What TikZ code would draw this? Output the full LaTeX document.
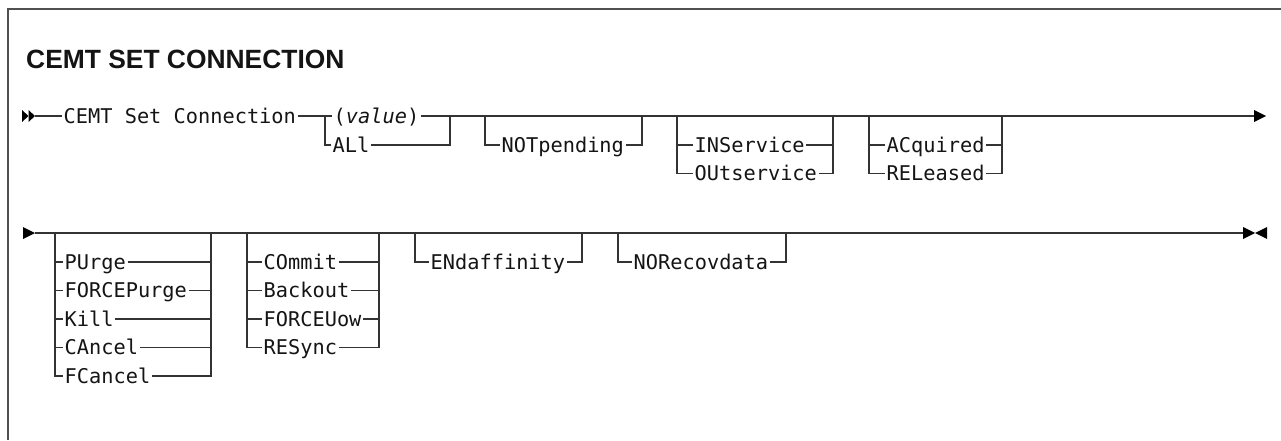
\documentclass[tikz,border=0pt]{standalone}
\usepackage{fontspec}
\newfontfamily\railfont{DejaVu Sans Mono}
\newfontfamily\titlefont{Liberation Sans}
\definecolor{railc}{HTML}{333333}
\definecolor{framec}{HTML}{505050}
\definecolor{textc}{HTML}{141414}
\begin{document}
\begin{tikzpicture}[x=1pt,y=-1pt,
  rail/.style={draw=railc, line width=1.3pt},
  framing/.style={draw=framec, line width=1.6pt},
  opt/.style={font=\railfont\fontsize{20.3}{24}\selectfont, text=textc, inner xsep=1.5pt, inner ysep=0pt, text height=14.8pt, text depth=0pt, anchor=west},
  tipfill/.style={fill=black}]
\useasboundingbox (0,0) rectangle (1281,440);
% frame
\draw[framing] (8,440) -- (8,9) -- (1281,9);
\node[anchor=base west, font=\titlefont\bfseries\fontsize{26.4}{30}\selectfont, inner sep=0pt, text=textc] (title) at (26,68) {CEMT SET CONNECTION};

% ---------- row 1 ----------
\fill[tipfill] (22,110) -- (28.5,116) -- (22,122) -- cycle;
\fill[tipfill] (28.5,110) -- (35,116) -- (28.5,122) -- cycle;
\coordinate (s1) at (35,116);
\node[opt] (cemt) at (62,116) {CEMT Set Connection};
\coordinate (b1L) at (325,116);
\coordinate (b1R) at (450,116);
\node[opt] (val) at (332,116) {(\textit{value})};
\node[opt] (all) at (331,145) {ALl};
\draw[rail] (s1) -- (cemt.west);
\draw[rail] (cemt.east) -- (b1L) -- (val.west);
\draw[rail] (val.east) -- (b1R);
\draw[rail] (b1L) |- (all.west);
\draw[rail] (all.east) -| (b1R);

\coordinate (b2L) at (485,116);
\coordinate (b2R) at (642,116);
\node[opt] (notp) at (500,145) {NOTpending};
\draw[rail] (b1R) -- (b2L) -- (b2R);
\draw[rail] (b2L) |- (notp.west);
\draw[rail] (notp.east) -| (b2R);

\coordinate (b3L) at (677,116);
\coordinate (b3R) at (833,116);
\node[opt] (insv) at (693,145) {INService};
\node[opt] (outs) at (693,173.5) {OUtservice};
\draw[rail] (b2R) -- (b3L) -- (b3R);
\draw[rail] (b3L) |- (outs.west);
\draw[rail] (b3L |- insv.west) -- (insv.west);
\draw[rail] (insv.east) -- (b3R |- insv.east);
\draw[rail] (outs.east) -| (b3R);

\coordinate (b4L) at (869,116);
\coordinate (b4R) at (1002,116);
\node[opt] (acq) at (885,145) {ACquired};
\node[opt] (rel) at (885,173.5) {RELeased};
\draw[rail] (b3R) -- (b4L) -- (b4R);
\draw[rail] (b4L) |- (rel.west);
\draw[rail] (b4L |- acq.west) -- (acq.west);
\draw[rail] (acq.east) -- (b4R |- acq.east);
\draw[rail] (rel.east) -| (b4R);

\coordinate (e1) at (1254,116);
\draw[rail] (b4R) -- (e1);
\fill[tipfill] (1254,110) -- (1266,116) -- (1254,122) -- cycle;

% ---------- row 2 ----------
\fill[tipfill] (23,227) -- (35,233) -- (23,239) -- cycle;
\coordinate (s2) at (35,233);

\coordinate (c1L) at (55,233);
\coordinate (c1R) at (211,233);
\node[opt] (purge) at (63,262) {PUrge};
\node[opt] (fpurge) at (63,290.5) {FORCEPurge};
\node[opt] (kill) at (63,319) {Kill};
\node[opt] (cancel) at (63,347.5) {CAncel};
\node[opt] (fcancel) at (63,376) {FCancel};
\draw[rail] (s2) -- (c1L) -- (c1R);
\draw[rail] (c1L) |- (fcancel.west);
\foreach \n in {purge,fpurge,kill,cancel}{
  \draw[rail] (c1L |- \n.west) -- (\n.west);
  \draw[rail] (\n.east) -- (c1R |- \n.east);
}
\draw[rail] (fcancel.east) -| (c1R);

\coordinate (c2L) at (247,233);
\coordinate (c2R) at (379,233);
\node[opt] (commit) at (262,262) {COmmit};
\node[opt] (backout) at (262,290.5) {Backout};
\node[opt] (fuow) at (262,319) {FORCEUow};
\node[opt] (resync) at (262,347.5) {RESync};
\draw[rail] (c1R) -- (c2L) -- (c2R);
\draw[rail] (c2L) |- (resync.west);
\foreach \n in {commit,backout,fuow}{
  \draw[rail] (c2L |- \n.west) -- (\n.west);
  \draw[rail] (\n.east) -- (c2R |- \n.east);
}
\draw[rail] (resync.east) -| (c2R);

\coordinate (c3L) at (415,233);
\coordinate (c3R) at (582,233);
\node[opt] (endaff) at (429,262) {ENdaffinity};
\draw[rail] (c2R) -- (c3L) -- (c3R);
\draw[rail] (c3L) |- (endaff.west);
\draw[rail] (endaff.east) -| (c3R);

\coordinate (c4L) at (618,233);
\coordinate (c4R) at (786,233);
\node[opt] (norec) at (632,262) {NORecovdata};
\draw[rail] (c3R) -- (c4L) -- (c4R);
\draw[rail] (c4L) |- (norec.west);
\draw[rail] (norec.east) -| (c4R);

\coordinate (e2) at (1243,233);
\draw[rail] (c4R) -- (e2);
\fill[tipfill] (1243,227) -- (1255,233) -- (1243,239) -- cycle;
\fill[tipfill] (1267,227) -- (1255,233) -- (1267,239) -- cycle;
\end{tikzpicture}
\end{document}
